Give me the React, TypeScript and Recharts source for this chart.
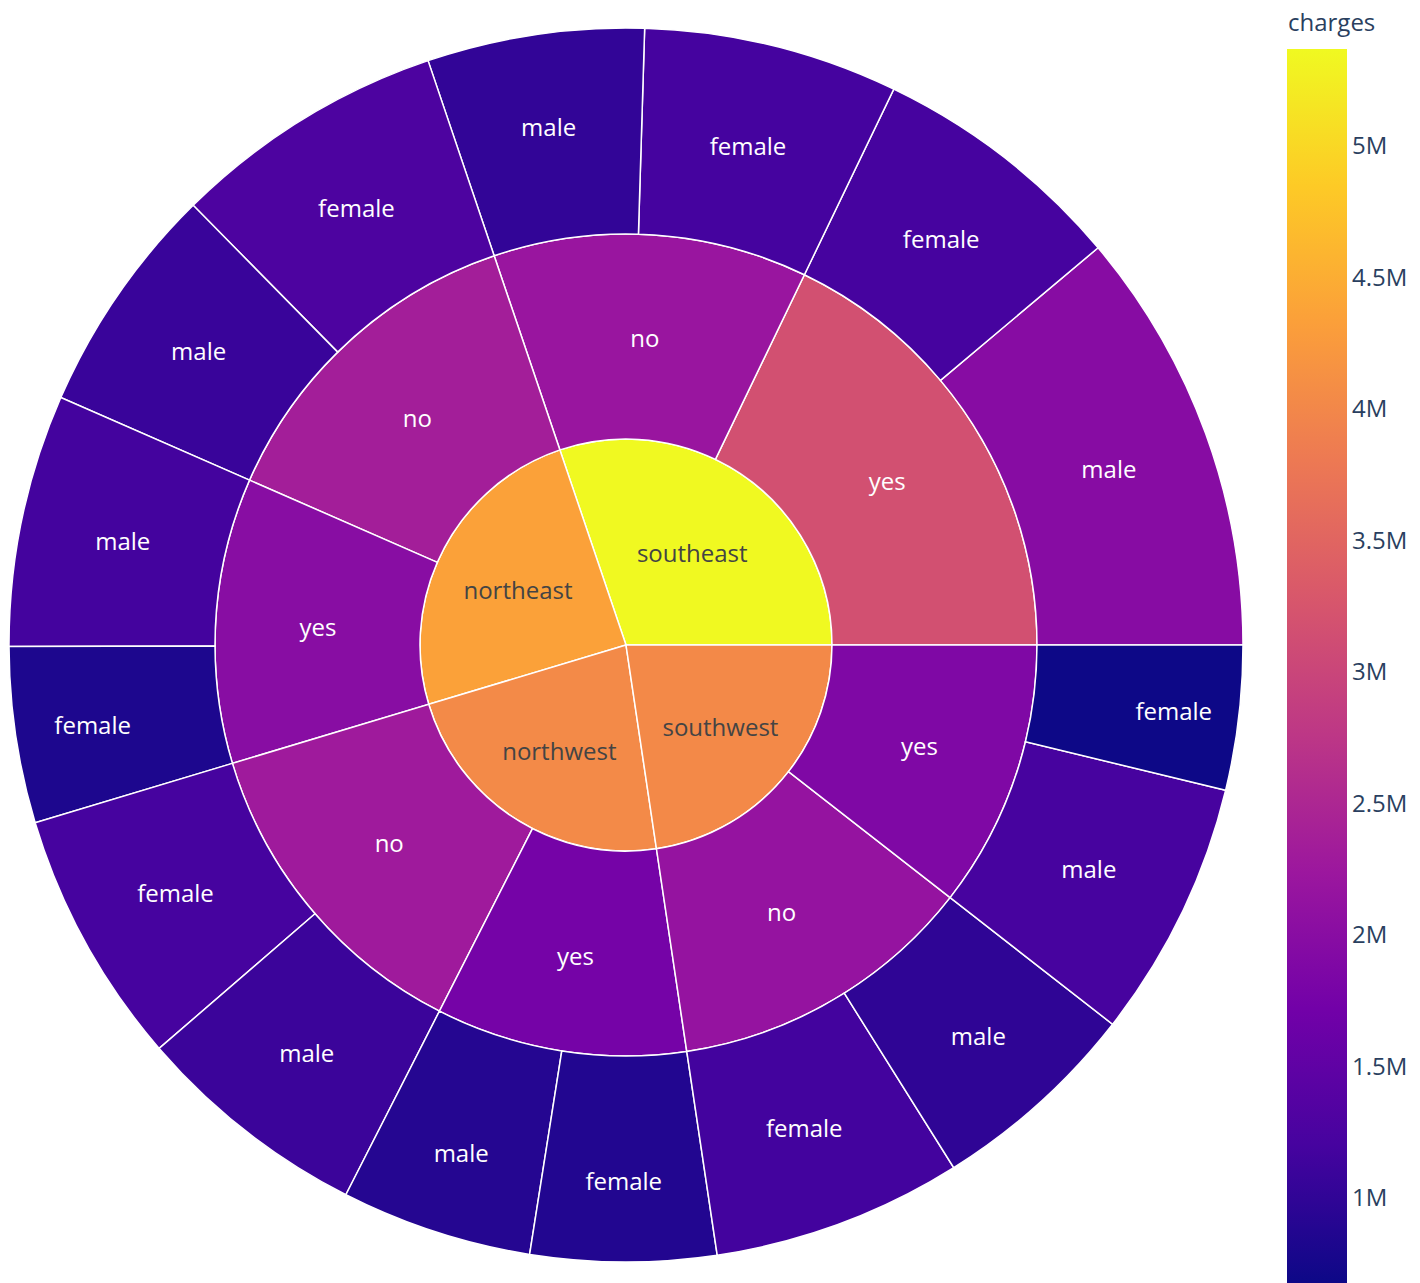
import { PieChart, Pie, Cell } from "recharts";

// top level: regions, in the order the sunburst draws them (counterclockwise from 3 o'clock)
const regions = ["southeast", "northeast", "northwest", "southwest"];

// second ring: smoker, two per region
const smokers = ["yes", "no", "no", "yes", "no", "yes", "no", "yes"];

// outer ring: sex, two per smoker group
const sexes = [
  "male", "female", "female", "male",
  "female", "male", "male", "female",
  "female", "male", "male", "female",
  "female", "male", "male", "female",
];

// summed charges of each outer cell
const charges = [
  1978000, 1194000, 1184000, 1009000,
  1275000, 1076000, 1174000, 819000,
  1189000, 1094000, 889000, 863000,
  1164000, 986000, 1200000, 672000,
];

const colorbarTicks = [1000000, 1500000, 2000000, 2500000, 3000000, 3500000, 4000000, 4500000, 5000000];

const PLASMA = ["#0d0887", "#46039f", "#7201a8", "#9c179e", "#bd3786", "#d8576b", "#ed7953", "#fb9f3a", "#fdca26", "#f0f921"];

const sum = (a: number[]) => a.reduce((s, v) => s + v, 0);

const outerData = sexes.map((name, i) => ({ name, value: charges[i] }));
const midData = smokers.map((name, i) => ({ name, value: charges[2 * i] + charges[2 * i + 1] }));
const innerData = regions.map((name, i) => ({ name, value: sum(charges.slice(4 * i, 4 * i + 4)) }));

const allValues = [...outerData, ...midData, ...innerData].map((d) => d.value);
const cmin = Math.min(...allValues);
const cmax = Math.max(...allValues);

function hexToRgb(h: string) {
  return [1, 3, 5].map((k) => parseInt(h.slice(k, k + 2), 16));
}

function plasma(v: number) {
  const t = Math.max(0, Math.min(1, (v - cmin) / (cmax - cmin))) * (PLASMA.length - 1);
  const i = Math.min(Math.floor(t), PLASMA.length - 2);
  const f = t - i;
  const a = hexToRgb(PLASMA[i]);
  const b = hexToRgb(PLASMA[i + 1]);
  const c = a.map((x, k) => Math.round(x + (b[k] - x) * f));
  return `rgb(${c[0]},${c[1]},${c[2]})`;
}

function textColor(fill: string) {
  const [r, g, b] = fill.slice(4, -1).split(",").map(Number);
  const brightness = (r * 299 + g * 587 + b * 114) / 1000;
  return brightness >= 128 ? "#444" : "#fff";
}

const RAD = Math.PI / 180;
const FONT = "'Open Sans', 'Noto Sans', sans-serif";

// label sits at the centre of the circle inscribed in the sector, like plotly does it
const sectorLabel = (props: any) => {
  const { cx, cy, midAngle, innerRadius, outerRadius, startAngle, endAngle, payload } = props;
  const half = Math.min(Math.abs(endAngle - startAngle), 180) * RAD / 2;
  const ring = 1 - innerRadius / outerRadius;
  const rIns = Math.max(0, Math.min(1 / (1 + 1 / Math.sin(half)), ring / 2));
  const r = (1 - rIns) * outerRadius;
  const x = cx + r * Math.cos(-midAngle * RAD);
  const y = cy + r * Math.sin(-midAngle * RAD);
  const fill = plasma(payload.value);
  return (
    <text x={x} y={y} fill={textColor(fill)} textAnchor="middle" dominantBaseline="central" fontSize={24} fontFamily={FONT}>
      {payload.name}
    </text>
  );
};

const CX = 621;
const CY = 640;
const R1 = 206;
const R2 = 411;
const R3 = 617;

// colorbar geometry
const CB_X = 1287;
const CB_W = 60;
const CB_TOP = 49;
const CB_BOTTOM = 1283;
const cbY = (v: number) => CB_TOP + ((cmax - v) / (cmax - cmin)) * (CB_BOTTOM - CB_TOP);

function Colorbar() {
  return (
    <svg width={1420} height={1283} style={{ position: "absolute", left: 0, top: 0, pointerEvents: "none" }}>
      <defs>
        <linearGradient id="plasmaGrad" x1="0" y1="1" x2="0" y2="0">
          {PLASMA.map((c, i) => (
            <stop key={i} offset={i / (PLASMA.length - 1)} stopColor={c} />
          ))}
        </linearGradient>
      </defs>
      <rect x={CB_X} y={CB_TOP} width={CB_W} height={CB_BOTTOM - CB_TOP} fill="url(#plasmaGrad)" />
      <text x={CB_X + 1} y={21} fill="#2a3f5f" fontSize={24} fontFamily={FONT} dominantBaseline="central">
        charges
      </text>
      {colorbarTicks.map((t) => (
        <text key={t} x={CB_X + CB_W + 5} y={cbY(t)} fill="#2a3f5f" fontSize={24} fontFamily={FONT} dominantBaseline="central">
          {`${t / 1000000}M`}
        </text>
      ))}
    </svg>
  );
}

export default function App() {
  const rings = [
    { data: innerData, inner: 0, outer: R1 },
    { data: midData, inner: R1, outer: R2 },
    { data: outerData, inner: R2, outer: R3 },
  ];
  return (
    <div style={{ position: "absolute", left: 0, top: 0, width: 1420, height: 1283, background: "#fff" }}>
      <PieChart width={1420} height={1283}>
        {rings.map((ring, k) => (
          <Pie
            key={k}
            data={ring.data}
            dataKey="value"
            cx={CX}
            cy={CY}
            innerRadius={ring.inner}
            outerRadius={ring.outer}
            startAngle={0}
            endAngle={360}
            stroke="#fff"
            strokeWidth={1.5}
            labelLine={false}
            label={sectorLabel}
            isAnimationActive={false}
          >
            {ring.data.map((d, i) => (
              <Cell key={i} fill={plasma(d.value)} />
            ))}
          </Pie>
        ))}
      </PieChart>
      <Colorbar />
    </div>
  );
}
